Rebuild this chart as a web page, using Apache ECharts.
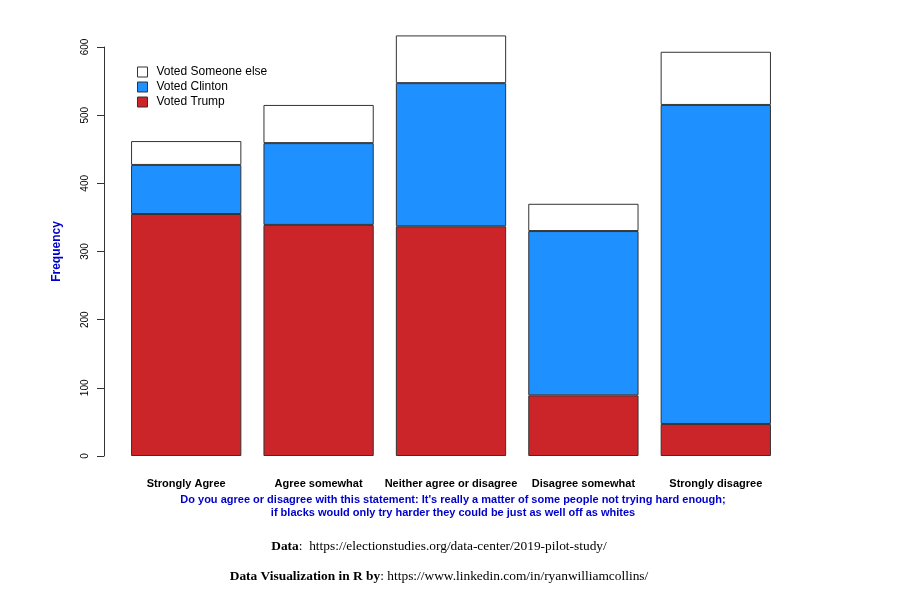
<!DOCTYPE html>
<html>
<head>
<meta charset="utf-8">
<script src="https://cdn.jsdelivr.net/npm/echarts@6/dist/echarts.min.js"></script>
<style>
  html, body { margin: 0; padding: 0; background: #fff; }
  #chart { width: 917px; height: 602px; }
</style>
</head>
<body>
<div id="chart"></div>
<script>
// data
const categories = ['Strongly Agree', 'Agree somewhat', 'Neither agree or disagree', 'Disagree somewhat', 'Strongly disagree'];
const votedTrump = [355, 339, 337, 89, 47];
const votedClinton = [72, 120, 210, 241, 468];
const votedOther = [35, 56, 70, 40, 78];
const yTicks = [0, 100, 200, 300, 400, 500, 600];

document.addEventListener('DOMContentLoaded', function () {
    const chart = echarts.init(document.getElementById('chart'));

    const barBorder = { borderColor: '#333', borderWidth: 1 };
    const serif = 'Liberation Serif, Times New Roman, serif';

    const option = {
        animation: false,
        backgroundColor: '#fff',
        textStyle: { fontFamily: 'Liberation Sans, Arial, sans-serif' },
        title: [
            {
                text: "Do you agree or disagree with this statement: It's really a matter of some people not trying hard enough;\nif blacks would only try harder they could be just as well off as whites",
                left: 448, top: 488, textAlign: 'center',
                textStyle: { color: '#0000CC', fontSize: 11, fontWeight: 'bold', lineHeight: 13, fontFamily: 'Liberation Sans, Arial, sans-serif' }
            },
            {
                text: '{b|Data}:  https://electionstudies.org/data-center/2019-pilot-study/',
                left: 434, top: 535, textAlign: 'center',
                textStyle: {
                    color: '#000', fontSize: 13.4, fontWeight: 'normal', fontFamily: serif,
                    rich: { b: { fontWeight: 'bold', fontSize: 13.4, fontFamily: serif } }
                }
            },
            {
                text: '{b|Data Visualization in R by}: https://www.linkedin.com/in/ryanwilliamcollins/',
                left: 434, top: 565, textAlign: 'center',
                textStyle: {
                    color: '#000', fontSize: 13.4, fontWeight: 'normal', fontFamily: serif,
                    rich: { b: { fontWeight: 'bold', fontSize: 13.4, fontFamily: serif } }
                }
            }
        ],
        legend: {
            data: ['Voted Someone else', 'Voted Clinton', 'Voted Trump'],
            orient: 'vertical',
            left: 132, top: 61,
            itemWidth: 10, itemHeight: 10, itemGap: 3,
            icon: 'rect',
            itemStyle: { borderColor: '#333', borderWidth: 1 },
            textStyle: { fontSize: 12, color: '#000', padding: [0, 0, 0, 4] }
        },
        grid: { left: 120, right: 135, top: 47, bottom: 146 },
        xAxis: {
            type: 'category',
            data: categories,
            axisLine: { show: false },
            axisTick: { show: false },
            axisLabel: { color: '#000', fontSize: 11, fontWeight: 'bold', margin: 22, interval: 0 }
        },
        yAxis: {
            type: 'value',
            min: 0, max: 600, interval: 100,
            offset: 16,
            name: 'Frequency',
            nameLocation: 'middle',
            nameGap: 41,
            nameTextStyle: { color: '#0000CC', fontSize: 12, fontWeight: 'bold' },
            axisLine: { show: true, lineStyle: { color: '#333', width: 1 } },
            axisTick: { show: true, length: 7, lineStyle: { color: '#333' } },
            axisLabel: {
                rotate: 90, fontSize: 10, color: '#000', margin: 14,
                formatter: function (v) { return yTicks.indexOf(v) >= 0 ? String(v) : ''; }
            },
            splitLine: { show: false }
        },
        series: [
            {
                name: 'Voted Trump', type: 'bar', stack: 'v', clip: false,
                barCategoryGap: '16.7%',
                itemStyle: Object.assign({ color: '#CC2529' }, barBorder),
                data: votedTrump
            },
            {
                name: 'Voted Clinton', type: 'bar', stack: 'v', clip: false,
                itemStyle: Object.assign({ color: '#1E90FF' }, barBorder),
                data: votedClinton
            },
            {
                name: 'Voted Someone else', type: 'bar', stack: 'v', clip: false,
                itemStyle: Object.assign({ color: '#FFFFFF' }, barBorder),
                data: votedOther
            }
        ]
    };
    chart.setOption(option);
});
</script>
</body>
</html>
